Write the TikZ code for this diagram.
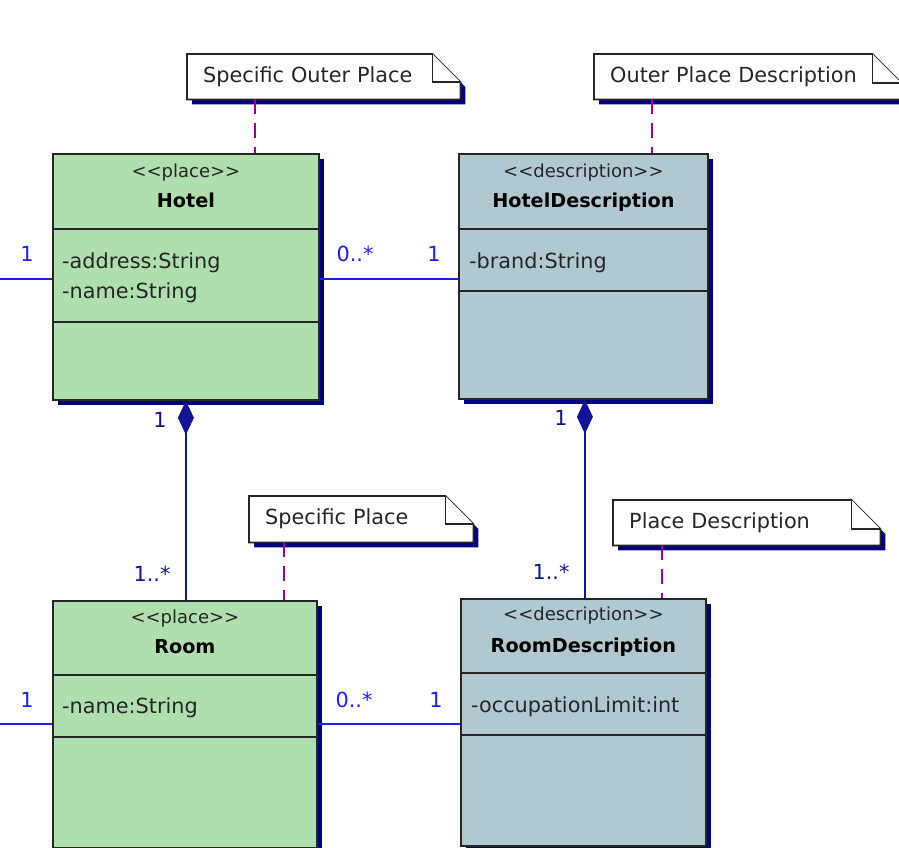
\documentclass[tikz,border=0pt]{standalone}
\usepackage{fontspec}
\newfontfamily\umlfont{DejaVu Sans}
\usetikzlibrary{arrows.meta,shadows,backgrounds}

\definecolor{placegreen}{RGB}{176,223,175}
\definecolor{descblue}{RGB}{176,200,208}
\definecolor{umlnavy}{RGB}{0,0,128}
\definecolor{assocblue}{RGB}{30,30,255}
\definecolor{compnavy}{RGB}{20,20,150}
\definecolor{notepurple}{RGB}{153,0,153}

% folded corner of a note, drawn under the note text
\newcommand{\foldnote}[2]{%
  \begin{pgfonlayer}{background}
    \fill[umlnavy] ([shift={(5,5)}]#1.north west) -- ([shift={(5-#2,5)}]#1.north east)
      -- ([shift={(5,5+#2)}]#1.north east) -- ([shift={(5,5)}]#1.south east)
      -- ([shift={(5,5)}]#1.south west) -- cycle;
    \filldraw[notebody] (#1.north west) -- ([xshift=-#2pt]#1.north east)
      -- ([yshift=-#2pt]#1.north east) -- (#1.south east) -- (#1.south west) -- cycle;
    \draw[notebody] ([xshift=-#2pt]#1.north east) |- ([yshift=-#2pt]#1.north east);
  \end{pgfonlayer}}

\begin{document}
\begin{tikzpicture}[x=1pt,y=-1pt]
\tikzstyle{every node}=[font=\umlfont\fontsize{20.8}{25}\selectfont];
\tikzstyle{umlclass}=[draw=black!85,line width=1.8pt,anchor=north west,inner sep=0pt,
  drop shadow={shadow xshift=5pt,shadow yshift=-5pt,fill=umlnavy,opacity=1}];
\tikzstyle{divider}=[draw=black!85,line width=1.8pt];
\tikzstyle{stereo}=[inner sep=0pt,text height=15pt,text depth=4pt,
  font=\umlfont\fontsize{18}{22}\selectfont,text=black!85];
\tikzstyle{classname}=[inner sep=0pt,text height=15pt,text depth=4pt,
  font=\umlfont\bfseries\fontsize{19.2}{23}\selectfont];
\tikzstyle{attr}=[anchor=west,inner sep=0pt,text height=15pt,text depth=4pt,text=black!85];
\tikzstyle{note}=[anchor=north west,inner xsep=16pt,inner ysep=0pt,align=left,
  minimum height=45pt,text=black!85];
\tikzstyle{notebody}=[draw=black!85,fill=white,line width=1.8pt];
\tikzstyle{noteline}=[draw=notepurple,line width=1.8pt,dash pattern=on 15pt off 9pt];
\tikzstyle{assoc}=[draw=assocblue,line width=1.8pt];
\tikzstyle{compose}=[draw=compnavy,line width=1.8pt,
  {Diamond[length=34pt,width=16pt,fill=compnavy]}-];
\tikzstyle{mult}=[inner sep=0pt,text height=15pt,text depth=4pt,text=assocblue];
\tikzstyle{cmult}=[inner sep=0pt,text height=15pt,text depth=4pt,text=compnavy];

\useasboundingbox (0,0) rectangle (899,847);
\clip (0,0) rectangle (899,847);

% classes
\node[umlclass,fill=placegreen,minimum width=266pt,minimum height=246pt] (hotel) at (52,153) {};
\draw[divider] ([yshift=-76pt]hotel.north west) -- ([yshift=-76pt]hotel.north east);
\draw[divider] ([yshift=-169pt]hotel.north west) -- ([yshift=-169pt]hotel.north east);
\node[stereo] (hotelst) at ([yshift=-19pt]hotel.north) {<<place>>};
\node[classname] (hotelname) at ([yshift=-49pt]hotel.north) {Hotel};
\node[attr] (hoteladdr) at ([shift={(10,110)}]hotel.north west) {-address:String};
\node[attr] (hotelnm) at ([shift={(10,140)}]hotel.north west) {-name:String};

\node[umlclass,fill=descblue,minimum width=249pt,minimum height=245pt] (hdesc) at (458,153) {};
\draw[divider] ([yshift=-76pt]hdesc.north west) -- ([yshift=-76pt]hdesc.north east);
\draw[divider] ([yshift=-138pt]hdesc.north west) -- ([yshift=-138pt]hdesc.north east);
\node[stereo] (hdescst) at ([yshift=-19pt]hdesc.north) {<<description>>};
\node[classname] (hdescname) at ([yshift=-49pt]hdesc.north) {HotelDescription};
\node[attr] (hdescbrand) at ([shift={(11,110)}]hdesc.north west) {-brand:String};

\node[umlclass,fill=placegreen,minimum width=264pt,minimum height=247pt] (room) at (52,600) {};
\draw[divider] ([yshift=-75pt]room.north west) -- ([yshift=-75pt]room.north east);
\draw[divider] ([yshift=-137pt]room.north west) -- ([yshift=-137pt]room.north east);
\node[stereo] (roomst) at ([yshift=-18pt]room.north) {<<place>>};
\node[classname] (roomname) at ([yshift=-48pt]room.north) {Room};
\node[attr] (roomnm) at ([shift={(10,108)}]room.north west) {-name:String};

\node[umlclass,fill=descblue,minimum width=245pt,minimum height=247pt] (rdesc) at (460,598) {};
\draw[divider] ([yshift=-75pt]rdesc.north west) -- ([yshift=-75pt]rdesc.north east);
\draw[divider] ([yshift=-137pt]rdesc.north west) -- ([yshift=-137pt]rdesc.north east);
\node[stereo] (rdescst) at ([yshift=-17pt]rdesc.north) {<<description>>};
\node[classname] (rdescname) at ([yshift=-49pt]rdesc.north) {RoomDescription};
\node[attr] (rdesclimit) at ([shift={(11,109)}]rdesc.north west) {-occupationLimit:int};

% notes
\node[note,text width=241pt] (sop) at (187,54) {Specific Outer Place};
\foldnote{sop}{28}
\node[note,text width=275pt] (opd) at (594,54) {Outer Place Description};
\foldnote{opd}{29}
\node[note,text width=192pt,minimum height=46pt] (sp) at (249,496) {Specific Place};
\foldnote{sp}{28}
\node[note,text width=235pt] (pd) at (613,500) {Place Description};
\foldnote{pd}{29}

\draw[noteline] ([xshift=68pt]sop.south west) -- ([xshift=68pt]sop.south west |- hotel.north);
\draw[noteline] ([xshift=58pt]opd.south west) -- ([xshift=58pt]opd.south west |- hdesc.north);
\draw[noteline] ([xshift=35pt]sp.south west) -- ([xshift=35pt]sp.south west |- room.north);
\draw[noteline] ([xshift=49pt]pd.south west) -- ([xshift=49pt]pd.south west |- rdesc.north);

% associations
\coordinate (hotelstub) at (0,279);
\coordinate (roomstub) at (0,724);
\draw[assoc] (hotelstub) -- (hotel.west |- hotelstub);
\draw[assoc] (roomstub) -- (room.west |- roomstub);
\draw[assoc] (hotel.east |- hotelstub) -- (hdesc.west |- hotelstub);
\draw[assoc] (room.east |- roomstub) -- (rdesc.west |- roomstub);

\node[mult] (m1) at (27,256) {1};
\node[mult] (m2) at (355,256) {0..*};
\node[mult] (m3) at (434,256) {1};
\node[mult] (m4) at (27,702) {1};
\node[mult] (m5) at (354,702) {0..*};
\node[mult] (m6) at (436,702) {1};

% compositions
\draw[compose] (hotel.south) -- (hotel.south |- room.north);
\draw[compose] ([xshift=1.5pt]hdesc.south) -- ([xshift=1.5pt]hdesc.south |- rdesc.north);
\node[cmult] (c1) at (160,422) {1};
\node[cmult] (c2) at (152,576) {1..*};
\node[cmult] (c3) at (561,420) {1};
\node[cmult] (c4) at (551,574) {1..*};
\end{tikzpicture}
\end{document}
